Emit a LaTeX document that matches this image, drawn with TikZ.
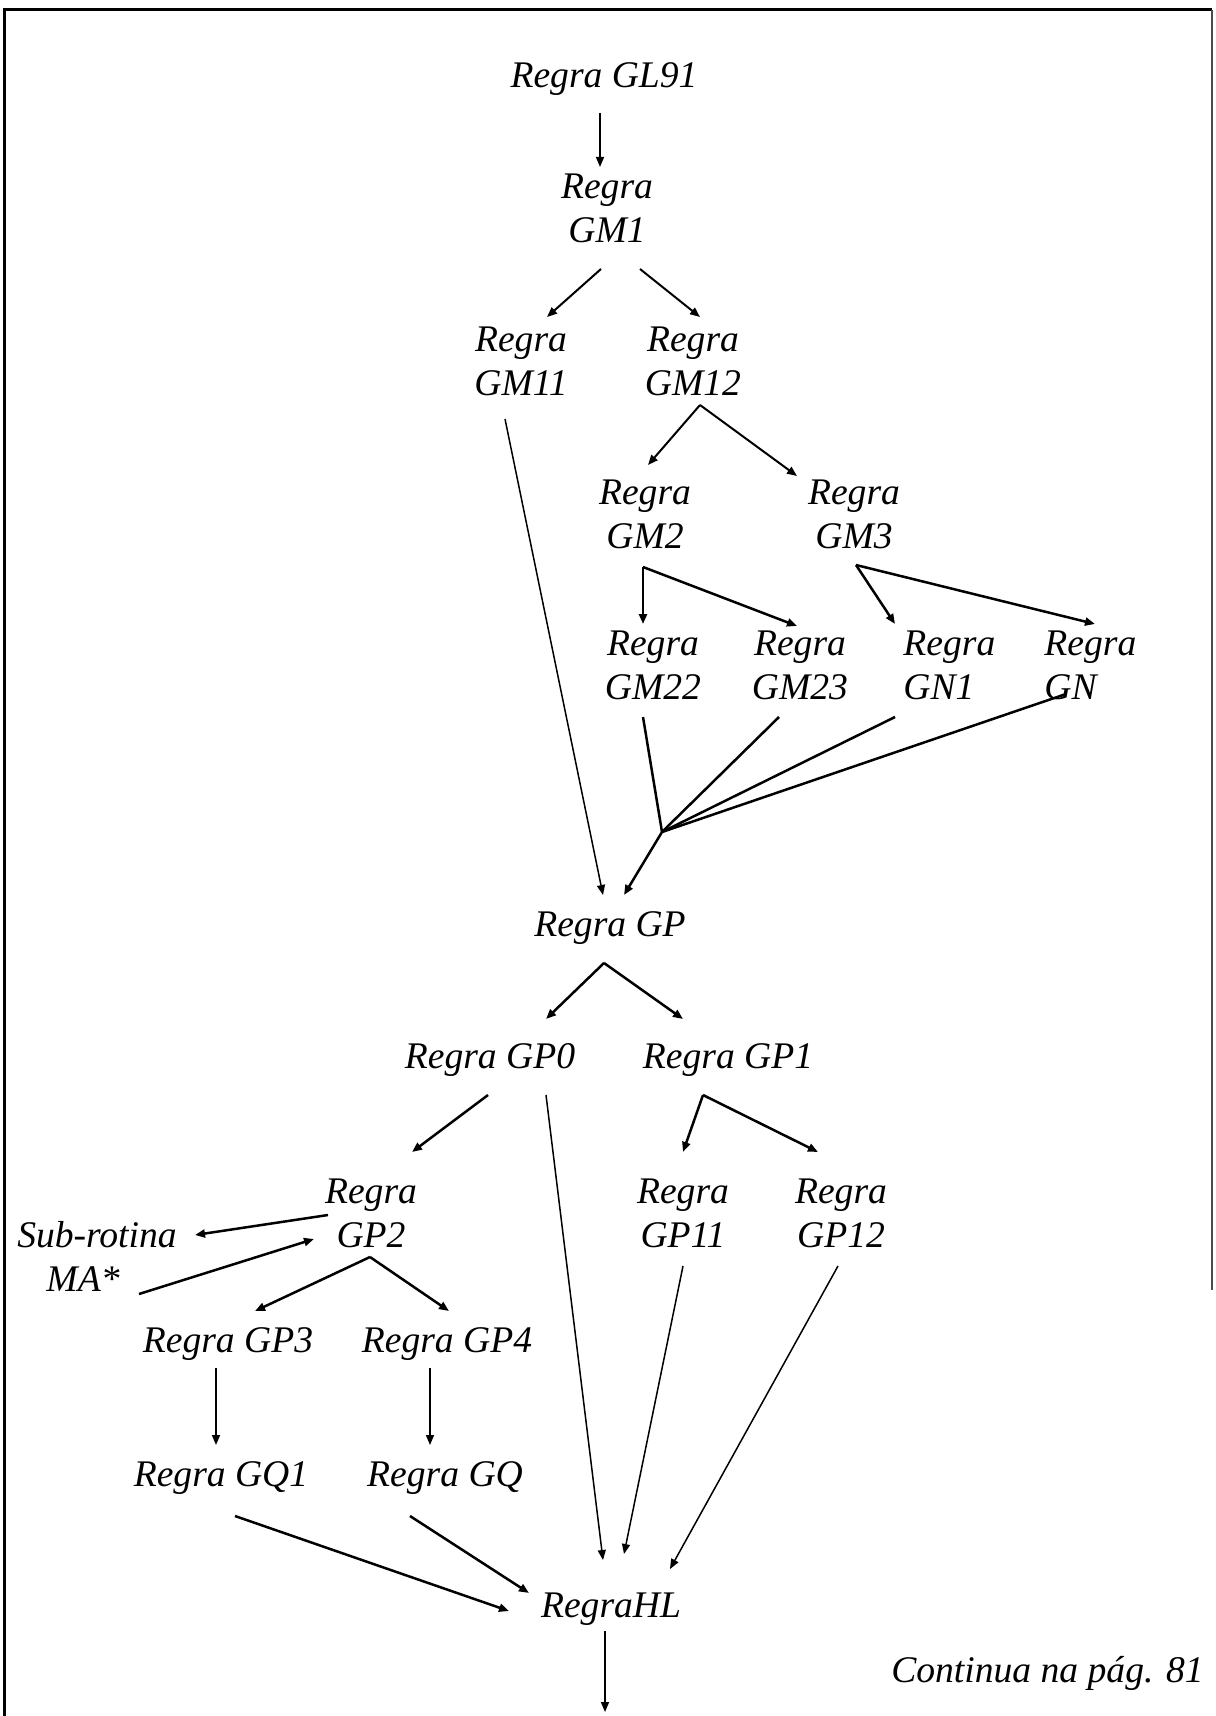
\documentclass[tikz,border=0pt]{standalone}
\usepackage{fontspec}
\setmainfont{Liberation Serif}
\usetikzlibrary{arrows.meta,calc}

\begin{document}
\begin{tikzpicture}[x=0.5pt,y=-0.5pt,
  lbl/.style={inner sep=0pt, font=\fontsize{18.8}{22}\selectfont\itshape, align=center},
  lbll/.style={lbl, align=left, anchor=west},
  arr/.style={-{Triangle[length=5pt,width=4pt]}, line width=0.75pt},
  marr/.style={arr, line width=1pt},
  barr/.style={arr, line width=1.25pt},
  bline/.style={line width=1.25pt},
]
\useasboundingbox (0,0) rectangle (1215,1716);

% page frame
\draw[line width=1.5pt] (4,1716) -- (4,10) -- (1212,10);
\draw[line width=0.9pt, black!70] (1212,10) -- (1212,1290);

% rules
\node[lbl] (gl91) at (604,79)  {Regra GL91};
\node[lbl] (gm1)  at (607,208) {Regra\\GM1};
\node[lbl] (gm11) at (521,361) {Regra\\GM11};
\node[lbl] (gm12) at (693,361) {Regra\\GM12};
\node[lbl] (gm2)  at (645,514) {Regra\\GM2};
\node[lbl] (gm3)  at (854,514) {Regra\\GM3};
\node[lbl] (gm22) at (653,665) {Regra\\GM22};
\node[lbl] (gm23) at (800,665) {Regra\\GM23};
\node[lbll] (gn1) at (903,665) {Regra\\GN1};
\node[lbll] (gn)  at (1044,665) {Regra\\GN};
\node[lbl] (gp)   at (610,928) {Regra GP};
\node[lbl] (gp0)  at (490,1060) {Regra GP0};
\node[lbl] (gp1)  at (728,1060) {Regra GP1};
\node[lbl] (gp2)  at (371,1213) {Regra\\GP2};
\node[lbl] (sub)  at (97,1256) {Sub-rotina\\\hbox{MA*\kern14pt}};
\node[lbl] (gp11) at (683,1213) {Regra\\GP11};
\node[lbl] (gp12) at (841,1213) {Regra\\GP12};
\node[lbl] (gp3)  at (228,1344) {Regra GP3};
\node[lbl] (gp4)  at (447,1344) {Regra GP4};
\node[lbl] (gq1)  at (221,1478) {Regra GQ1};
\node[lbl] (gq)   at (445,1478) {Regra GQ};
\node[lbl] (hl)   at (611,1609) {RegraHL};
\node[lbl, anchor=east] (cont) at (1204,1673) {Continua na pág. 81};

\coordinate (j) at (662,832);
\coordinate (next) at (605,1712);

% upper tree
\draw[arr]  ($(gl91)+(-4,34)$) -- ($(gm1)+(-7,-41)$);
\draw[marr] ($(gm1)+(-6,61)$) -- ($(gm11)+(26,-44)$);
\draw[marr] ($(gm1)+(33,61)$) -- ($(gm12)+(7,-44)$);
\draw[arr]  ($(gm11)+(-16,58)$) -- ($(gp)+(-7,-33)$);
\draw[marr] ($(gm12)+(7,44)$) -- ($(gm2)+(3,-49)$);
\draw[marr] ($(gm12)+(7,44)$) -- ($(gm3)+(-57,-38)$);
\draw[barr] ($(gm2)+(-2,53)$) -- ($(gm22)+(-10,-41)$);
\draw[barr] ($(gm2)+(-2,53)$) -- ($(gm23)+(-3,-39)$);
\draw[barr] ($(gm3)+(2,51)$) -- ($(gn1.west)+(-8,-41)$);
\draw[barr] ($(gm3)+(2,51)$) -- ($(gn.west)+(51,-41)$);

% merge into GP
\draw[bline] ($(gm22)+(-10,52)$) -- (j);
\draw[bline] ($(gm23)+(-21,52)$) -- (j);
\draw[bline] ($(gn1.west)+(-8,52)$) -- (j);
\draw[bline] ($(gn.west)+(22,29)$) -- (j);
\draw[barr] (j) -- ($(gp)+(14,-33)$);

% lower tree
\draw[barr] ($(gp)+(-6,35)$) -- ($(gp0)+(56,-41)$);
\draw[barr] ($(gp)+(-6,35)$) -- ($(gp1)+(-45,-41)$);
\draw[barr] ($(gp0)+(-2,35)$) -- ($(gp2)+(41,-61)$);
\draw[arr]  ($(gp0)+(56,35)$) -- ($(hl)+(-8,-49)$);
\draw[barr] ($(gp1)+(-25,35)$) -- ($(gp11)+(0,-61)$);
\draw[barr] ($(gp1)+(-25,35)$) -- ($(gp12)+(-23,-61)$);
\draw[arr]  ($(gp11)+(0,53)$) -- ($(hl)+(13,-55)$);
\draw[arr]  ($(gp12)+(-3,53)$) -- ($(hl)+(59,-40)$);
\draw[barr] ($(gp2)+(-43,2)$) -- ($(sub)+(98,-21)$);
\draw[barr] ($(sub)+(42,38)$) -- ($(gp2)+(-57,26)$);
\draw[barr] ($(gp2)+(-1,44)$) -- ($(gp3)+(27,-33)$);
\draw[barr] ($(gp2)+(-1,44)$) -- ($(gp4)+(2,-33)$);
\draw[arr]  ($(gp3)+(-12,24)$) -- ($(gq1)+(-5,-33)$);
\draw[arr]  ($(gp4)+(-17,24)$) -- ($(gq)+(-15,-33)$);
\draw[barr] ($(gq1)+(14,38)$) -- ($(hl)+(-102,2)$);
\draw[barr] ($(gq)+(-35,38)$) -- ($(hl)+(-82,-16)$);
\draw[arr]  ($(hl)+(-6,22)$) -- (next);
\end{tikzpicture}
\end{document}
